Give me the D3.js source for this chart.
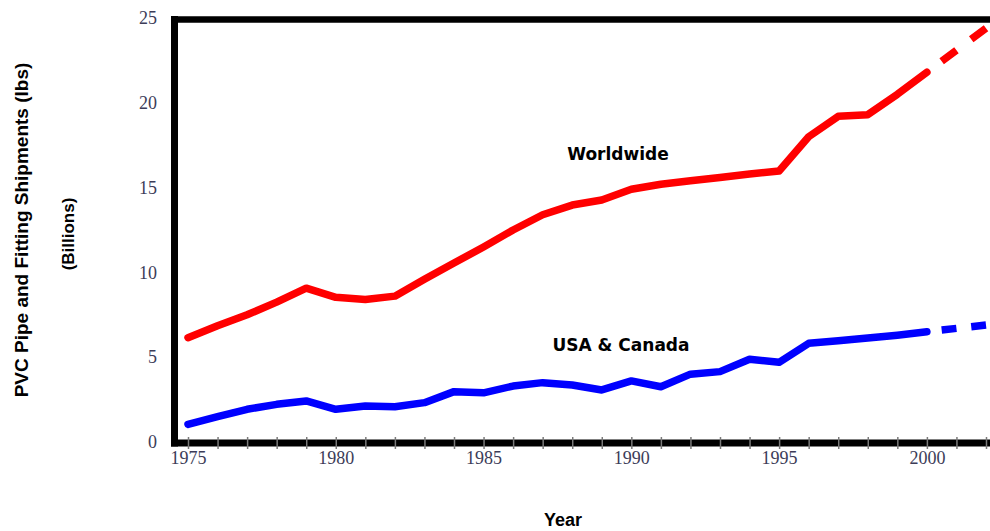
<!DOCTYPE html>
<html>
<head>
<meta charset="utf-8">
<script src="https://cdn.jsdelivr.net/npm/d3@7"></script>
<style>
  body { margin: 0; background: #fff; }
  svg { display: block; }
</style>
</head>
<body>
<script>
// values (billions of lbs)
var years = [1975, 1976, 1977, 1978, 1979, 1980, 1981, 1982, 1983, 1984, 1985, 1986, 1987,
             1988, 1989, 1990, 1991, 1992, 1993, 1994, 1995, 1996, 1997, 1998, 1999, 2000];
var worldwide = [6.15, 6.85, 7.5, 8.25, 9.07, 8.53, 8.4, 8.6, 9.6, 10.55, 11.5, 12.5, 13.4,
                 13.97, 14.27, 14.9, 15.2, 15.4, 15.6, 15.8, 15.98, 18.0, 19.2, 19.3, 20.5, 21.8];
var usaCanada = [1.04, 1.49, 1.93, 2.22, 2.42, 1.93, 2.12, 2.08, 2.32, 2.97, 2.9, 3.3, 3.5,
                 3.36, 3.07, 3.6, 3.26, 4.0, 4.15, 4.88, 4.7, 5.82, 5.97, 6.13, 6.3, 6.5];
// projected (dashed) part
var projYears = [2000, 2002];
var worldwideProj = [21.8, 24.4];
var usaCanadaProj = [6.5, 6.9];
var yTicks = [0, 5, 10, 15, 20, 25];
var seriesLabels = ["Worldwide", "USA & Canada"];

var width = 990, height = 531;

var svg = d3.select("body").append("svg")
    .attr("width", width)
    .attr("height", height);

var x = d3.scaleLinear().domain([1975, 2002]).range([188, 986]);
var y = d3.scaleLinear().domain([0, 25]).range([442, 18]);

// black frame (left, top, bottom)
svg.append("line").attr("x1", 174.5).attr("x2", 174.5).attr("y1", 16).attr("y2", 446.5)
    .attr("stroke", "#000").attr("stroke-width", 7);
svg.append("line").attr("x1", 171).attr("x2", width).attr("y1", 19.5).attr("y2", 19.5)
    .attr("stroke", "#000").attr("stroke-width", 6.5);
svg.append("line").attr("x1", 171).attr("x2", width).attr("y1", 443).attr("y2", 443)
    .attr("stroke", "#000").attr("stroke-width", 7);

// x axis: a tick every year, a label every 5
var xAxis = svg.append("g")
    .attr("transform", "translate(0,443)")
    .call(d3.axisBottom(x)
        .tickValues(d3.range(1975, 2003))
        .tickFormat(function(d) { return d % 5 === 0 ? d : ""; })
        .tickSizeOuter(0));
xAxis.select(".domain").remove();
xAxis.selectAll(".tick line")
    .attr("y1", -6).attr("y2", 6)
    .attr("stroke", "#7a7a7a").attr("stroke-width", 1.5);
xAxis.selectAll(".tick text")
    .attr("y", 8)
    .attr("fill", "#3c3c58")
    .style("font-family", "'Liberation Serif', 'Times New Roman', serif")
    .style("font-size", "18px");

// y axis labels
var yAxis = svg.append("g")
    .attr("transform", "translate(175,0)")
    .call(d3.axisLeft(y).tickValues(yTicks).tickSize(0).tickPadding(18));
yAxis.select(".domain").remove();
yAxis.selectAll(".tick text")
    .attr("fill", "#3c3c58")
    .style("font-family", "'Liberation Serif', 'Times New Roman', serif")
    .style("font-size", "18px");

var line = d3.line()
    .x(function(d) { return x(d[0]); })
    .y(function(d) { return y(d[1]); });

function drawSeries(vals, proj, color) {
    var solid = years.map(function(yr, i) { return [yr, vals[i]]; });
    var dashed = projYears.map(function(yr, i) { return [yr, proj[i]]; });
    svg.append("path")
        .attr("d", line(solid))
        .attr("fill", "none")
        .attr("stroke", color)
        .attr("stroke-width", 7.5)
        .attr("stroke-linejoin", "round")
        .attr("stroke-linecap", "round");
    // gap, dash, gap, dash
    svg.append("path")
        .attr("d", line(dashed))
        .attr("pathLength", 4)
        .attr("fill", "none")
        .attr("stroke", color)
        .attr("stroke-width", 7.5)
        .attr("stroke-dasharray", "1 1")
        .attr("stroke-dashoffset", 1);
}
drawSeries(worldwide, worldwideProj, "#ff0000");
drawSeries(usaCanada, usaCanadaProj, "#0000ff");

// series labels
var labelFont = "'DejaVu Sans', Verdana, sans-serif";
svg.append("text").attr("x", 618).attr("y", 160)
    .attr("text-anchor", "middle")
    .style("font-family", labelFont).style("font-weight", "bold").style("font-size", "17px")
    .text(seriesLabels[0]);
svg.append("text").attr("x", 621).attr("y", 351)
    .attr("text-anchor", "middle")
    .style("font-family", labelFont).style("font-weight", "bold").style("font-size", "17px")
    .text(seriesLabels[1]);

// axis titles
var titleFont = "'Liberation Sans', Arial, sans-serif";
svg.append("text")
    .attr("transform", "translate(28,230) rotate(-90)")
    .attr("text-anchor", "middle")
    .style("font-family", titleFont).style("font-weight", "bold").style("font-size", "19px")
    .text("PVC Pipe and Fitting Shipments (lbs)");
svg.append("text")
    .attr("transform", "translate(74,234) rotate(-90)")
    .attr("text-anchor", "middle")
    .style("font-family", titleFont).style("font-weight", "bold").style("font-size", "17px")
    .text("(Billions)");
svg.append("text")
    .attr("x", 563).attr("y", 526)
    .attr("text-anchor", "middle")
    .style("font-family", titleFont).style("font-weight", "bold").style("font-size", "18px")
    .text("Year");
</script>
</body>
</html>
